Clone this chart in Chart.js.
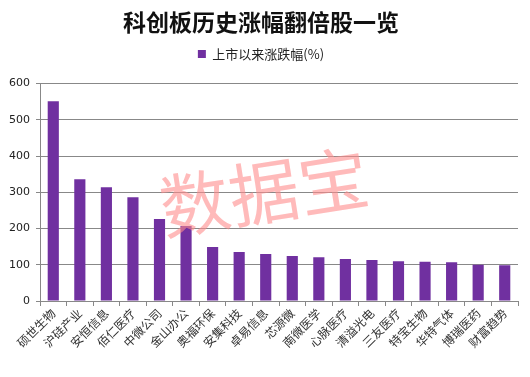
<!DOCTYPE html>
<html>
<head>
<meta charset="utf-8">
<script src="https://cdn.jsdelivr.net/npm/chart.js@4"></script>
<style>
  body { margin: 0; background: #fff; }
  #wrap { width: 530px; height: 377px; }
</style>
</head>
<body>
<div id="wrap"><canvas id="myChart" width="530" height="377"></canvas></div>
<script>
var stocks = ['硕世生物', '沪硅产业', '安恒信息', '佰仁医疗', '中微公司', '金山办公', '奥福环保', '安集科技', '卓易信息',
  '芯源微', '南微医学', '心脉医疗', '清溢光电', '三友医疗', '特宝生物', '华特气体', '博瑞医药', '财富趋势'];
var gains = [551, 336, 314, 286, 226, 207, 149, 135, 130, 124, 121, 116, 113, 110, 108, 107, 100, 99];
var yTicks = [0, 100, 200, 300, 400, 500, 600];

// 水印
var watermark = {
  id: 'watermark',
  afterDatasetsDraw: function(chart) {
    var c = chart.ctx;
    c.save();
    c.translate(264, 192);
    c.rotate(-9 * Math.PI / 180);
    c.font = '400 70px "Noto Sans CJK SC"';
    c.fillStyle = 'rgba(255, 140, 140, 0.6)';
    c.textAlign = 'center';
    c.textBaseline = 'middle';
    c.fillText('数据宝', 0, 0);
    c.restore();
  }
};

// 图例下方留空
var legendGap = {
  id: 'legendGap',
  afterInit: function(chart) {
    var fit = chart.legend.fit;
    chart.legend.fit = function() {
      fit.call(this);
      this.height += 13;
    };
  }
};

var ctx = document.getElementById('myChart').getContext('2d');
var myChart = new Chart(ctx, {
  type: 'bar',
  data: {
    labels: stocks,
    datasets: [{
      label: '上市以来涨跌幅(%)',
      data: gains,
      backgroundColor: '#7030A0',
      barPercentage: 0.42,
      categoryPercentage: 1
    }]
  },
  options: {
    responsive: false,
    animation: false,
    layout: { padding: { left: 4, right: 12, top: 0, bottom: 0 } },
    plugins: {
      title: {
        display: true,
        text: '科创板历史涨幅翻倍股一览',
        color: '#111',
        font: { family: '"Noto Sans CJK SC"', size: 23, weight: 'bold' },
        padding: { top: 8, bottom: 2 }
      },
      legend: {
        display: true,
        labels: {
          boxWidth: 8,
          boxHeight: 8,
          color: '#222',
          font: { family: '"Noto Sans CJK SC"', size: 13 }
        }
      },
      tooltip: { enabled: false }
    },
    scales: {
      x: {
        grid: { display: true, drawOnChartArea: false, offset: true, color: '#888', tickLength: 5 },
        border: { color: '#888' },
        ticks: {
          maxRotation: 45,
          minRotation: 45,
          autoSkip: false,
          color: '#333',
          padding: 0,
          font: { family: '"Noto Sans CJK SC"', size: 12 }
        },
        afterFit: function(scale) { scale.height = 76; }
      },
      y: {
        min: 0,
        max: 600,
        afterBuildTicks: function(scale) {
          scale.ticks = yTicks.map(function(v) { return { value: v }; });
        },
        grid: { color: '#888', tickLength: 4 },
        border: { color: '#888' },
        ticks: {
          color: '#222',
          padding: 6,
          font: { family: 'DejaVu Sans', size: 11 }
        },
        afterFit: function(scale) { scale.width = 36; }
      }
    }
  },
  plugins: [watermark, legendGap]
});
</script>
</body>
</html>
